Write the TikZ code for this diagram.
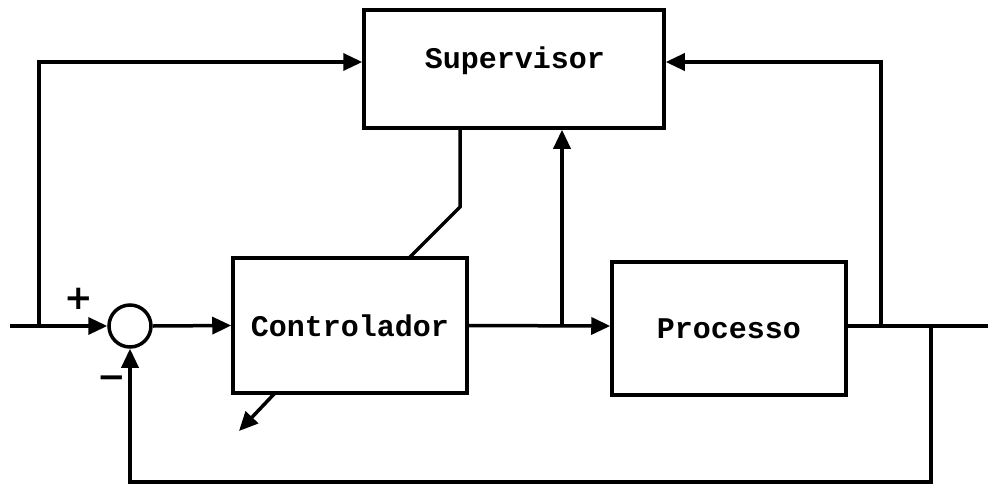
\documentclass[tikz,border=0pt]{standalone}
\usepackage{fontspec}
\setmonofont{Liberation Mono}
\newfontfamily\signfont{DejaVu Sans}
\usetikzlibrary{arrows.meta}
\begin{document}
\begin{tikzpicture}[x=1pt,y=-1pt,
  line width=3.5pt,
  wire/.style={draw=black,line width=3.5pt},
  tip/.style={-{Triangle[length=19pt,width=17pt]}},
  blockbox/.style={draw,line width=3.5pt,minimum width=#1,inner sep=0pt,
    font=\ttfamily\bfseries\fontsize{30}{30}\selectfont},
  sumnode/.style={draw,circle,line width=3.5pt,minimum size=42pt,inner sep=0pt},
  title/.style={font=\ttfamily\bfseries\fontsize{30}{30}\selectfont,inner sep=0pt},
  sign/.style={font=\signfont\bfseries\fontsize{34}{34}\selectfont,inner sep=0pt}]
\useasboundingbox (0,0) rectangle (988,485);

% blocks
\node[blockbox=300pt,minimum height=118pt] (sup) at (514,69) {};
\node[title] at (515,61) {Supervisor};
\node[blockbox=234pt,minimum height=135pt] (ctl) at (350,325.5) {Controlador};
\node[blockbox=234pt,minimum height=133pt] (proc) at (729,328.5) {Processo};
\node[sumnode] (sum) at (130,326) {};

% signs at the summing junction
\node[sign] (plus) at (79,299) {+};
\node[sign] (minus) at (112,382) {\textminus};

% branch points and free ends
\coordinate (in) at (10,326);
\coordinate (inb) at (39,326);
\coordinate (ub) at (562,326);
\coordinate (yb1) at (881,326);
\coordinate (yb2) at (931,326);
\coordinate (out) at (988,326);
\coordinate (fb) at (931,482);
\coordinate (s1) at (460,128);
\coordinate (s2) at (460,207);
\coordinate (c1) at (409,258);
\coordinate (a1) at (275,393);
\coordinate (a2) at (239,431);

% main loop
\draw[wire,tip] (in) -- (sum.west);
\draw[wire,tip] (sum.east) -- (ctl.west);
\draw[wire,tip] (ctl.east) -- (proc.west |- ub);
\draw[wire] (proc.east |- out) -- (out);
\draw[wire,tip] (yb2) -- (fb) -| (sum.south);

% signals to the supervisor
\draw[wire,tip] (inb) |- (sup.west |- 0,62);
\draw[wire,tip] (ub) -- (sup.south -| ub);
\draw[wire,tip] (yb1) |- (sup.east |- 0,62);

% supervisor acting on the controller
\draw[wire,line join=miter] (s1) -- (s2) -- (c1);
\draw[wire,tip] (a1) -- (a2);
\end{tikzpicture}
\end{document}
